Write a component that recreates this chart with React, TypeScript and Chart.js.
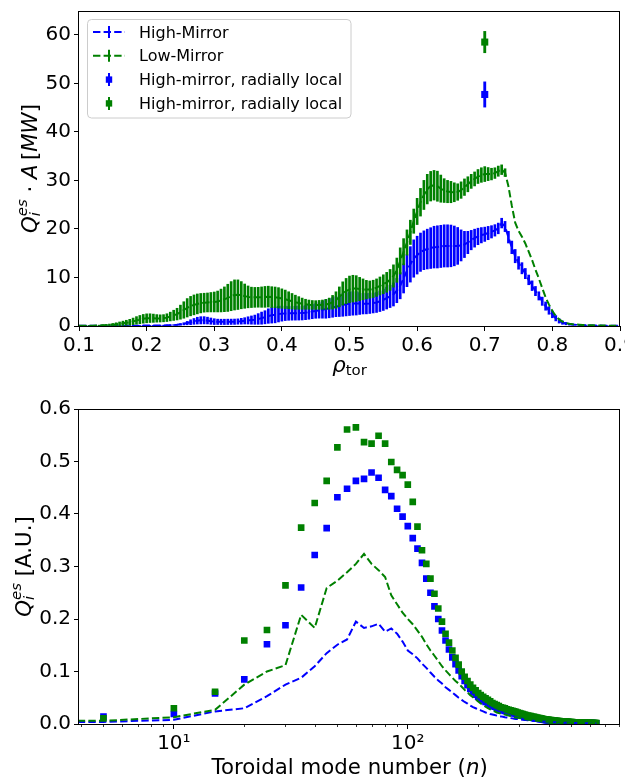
import React, { useEffect, useRef } from 'react';
import { Chart, registerables } from 'chart.js';
Chart.register(...registerables);

const FONT = '"DejaVu Sans", "Liberation Sans", sans-serif';
const BLUE = '#0000ff';
const GREEN = '#008000';

// ---------------- top panel data ----------------
const rhoGrid = [
  0.100, 0.105, 0.110, 0.115, 0.120, 0.125, 0.130, 0.135, 0.140, 0.145,
  0.150, 0.155, 0.160, 0.165, 0.170, 0.175, 0.180, 0.185, 0.190, 0.195,
  0.200, 0.205, 0.210, 0.215, 0.220, 0.225, 0.230, 0.235, 0.240, 0.245,
  0.250, 0.255, 0.260, 0.265, 0.270, 0.275, 0.280, 0.285, 0.290, 0.295,
  0.300, 0.305, 0.310, 0.315, 0.320, 0.325, 0.330, 0.335, 0.340, 0.345,
  0.350, 0.355, 0.360, 0.365, 0.370, 0.375, 0.380, 0.385, 0.390, 0.395,
  0.400, 0.405, 0.410, 0.415, 0.420, 0.425, 0.430, 0.435, 0.440, 0.445,
  0.450, 0.455, 0.460, 0.465, 0.470, 0.475, 0.480, 0.485, 0.490, 0.495,
  0.500, 0.505, 0.510, 0.515, 0.520, 0.525, 0.530, 0.535, 0.540, 0.545,
  0.550, 0.555, 0.560, 0.565, 0.570, 0.575, 0.580, 0.585, 0.590, 0.595,
  0.600, 0.605, 0.610, 0.615, 0.620, 0.625, 0.630, 0.635, 0.640, 0.645,
  0.650, 0.655, 0.660, 0.665, 0.670, 0.675, 0.680, 0.685, 0.690, 0.695,
  0.700, 0.705, 0.710, 0.715, 0.720, 0.725, 0.730, 0.735, 0.740, 0.745,
  0.750, 0.755, 0.760, 0.765, 0.770, 0.775, 0.780, 0.785, 0.790, 0.795,
  0.800, 0.805, 0.810, 0.815, 0.820, 0.825, 0.830, 0.835, 0.840, 0.845,
  0.850, 0.855, 0.860, 0.865, 0.870, 0.875, 0.880, 0.885, 0.890, 0.895, 0.900,
];

const highMirrorMean = [
  0.05, 0.05, 0.05, 0.05, 0.05, 0.05, 0.05, 0.05, 0.05, 0.06,
  0.06, 0.06, 0.06, 0.06, 0.06, 0.07, 0.07, 0.07, 0.07, 0.08,
  0.08, 0.08, 0.09, 0.10, 0.11, 0.12, 0.14, 0.17, 0.20, 0.26,
  0.34, 0.45, 0.60, 0.78, 0.95, 1.10, 1.17, 1.18, 1.12, 1.00,
  0.90, 0.86, 0.85, 0.85, 0.86, 0.87, 0.88, 0.92, 0.98, 1.06,
  1.15, 1.22, 1.30, 1.45, 1.62, 1.80, 2.05, 2.20, 2.30, 2.45,
  2.55, 2.60, 2.60, 2.62, 2.64, 2.66, 2.68, 2.75, 2.85, 2.97,
  3.09, 3.22, 3.36, 3.50, 3.66, 3.82, 3.98, 4.15, 4.32, 4.48,
  4.58, 4.65, 4.66, 4.63, 4.60, 4.60, 4.66, 4.75, 4.85, 5.10,
  5.40, 5.75, 6.10, 6.50, 7.30, 8.30, 9.80, 11.4, 12.7, 13.9,
  14.6, 15.2, 15.6, 15.85, 16.05, 16.25, 16.3, 16.4, 16.5, 16.5,
  16.5, 16.5, 16.5, 16.6, 16.8, 17.2, 17.7, 18.1, 18.45, 18.7,
  18.9, 19.15, 19.4, 19.7, 20.1, 21.2, 20.5, 18.3, 16.2, 14.4,
  13.0, 11.9, 10.8, 9.5, 8.3, 7.2, 6.2, 5.1, 4.1, 3.2,
  2.4, 1.6, 1.05, 0.70, 0.50, 0.38, 0.30, 0.25, 0.20, 0.16,
  0.14, 0.12, 0.10, 0.09, 0.08, 0.07, 0.06, 0.06, 0.05, 0.05, 0.05,
];

const highMirrorErr = [
  0.03, 0.03, 0.03, 0.03, 0.03, 0.03, 0.03, 0.03, 0.03, 0.03,
  0.03, 0.03, 0.03, 0.03, 0.03, 0.03, 0.03, 0.03, 0.03, 0.03,
  0.04, 0.04, 0.04, 0.05, 0.05, 0.05, 0.06, 0.07, 0.08, 0.10,
  0.15, 0.22, 0.35, 0.50, 0.60, 0.70, 0.75, 0.75, 0.70, 0.65,
  0.60, 0.55, 0.55, 0.55, 0.55, 0.55, 0.55, 0.55, 0.60, 0.65,
  0.75, 0.85, 0.95, 1.10, 1.25, 1.35, 1.50, 1.60, 1.65, 1.62,
  1.55, 1.48, 1.42, 1.42, 1.43, 1.44, 1.44, 1.45, 1.46, 1.47,
  1.50, 1.60, 1.75, 1.90, 1.97, 2.02, 2.06, 2.20, 2.32, 2.40,
  2.42, 2.42, 2.40, 2.25, 2.12, 2.10, 2.08, 2.06, 2.06, 2.12,
  2.20, 2.25, 2.30, 2.38, 2.50, 2.70, 3.00, 3.30, 3.65, 3.85,
  3.90, 3.95, 4.00, 4.10, 4.20, 4.30, 4.35, 4.35, 4.35, 4.35,
  4.30, 4.10, 3.80, 3.20, 2.70, 2.30, 2.00, 1.85, 1.70, 1.58,
  1.47, 1.37, 1.27, 1.18, 1.10, 1.00, 1.05, 1.20, 1.30, 1.37,
  1.30, 1.15, 1.05, 1.00, 1.00, 0.95, 0.85, 0.85, 0.85, 0.78,
  0.70, 0.55, 0.45, 0.35, 0.25, 0.18, 0.12, 0.10, 0.08, 0.05,
  0.05, 0.05, 0.05, 0.05, 0.05, 0.05, 0.05, 0.05, 0.05, 0.05, 0.05,
];

const lowMirrorMean = [
  0.05, 0.05, 0.05, 0.06, 0.07, 0.08, 0.10, 0.13, 0.17, 0.22,
  0.28, 0.36, 0.45, 0.55, 0.66, 0.78, 0.95, 1.15, 1.32, 1.48,
  1.58, 1.62, 1.60, 1.57, 1.56, 1.60, 1.72, 1.95, 2.20, 2.45,
  2.85, 3.30, 3.75, 4.10, 4.35, 4.55, 4.70, 4.80, 4.85, 4.90,
  4.95, 5.05, 5.25, 5.50, 5.80, 6.15, 6.40, 6.45, 6.35, 6.15,
  6.00, 5.90, 5.90, 5.92, 5.95, 6.00, 6.05, 5.95, 5.90, 5.80,
  5.65, 5.50, 5.30, 5.10, 4.90, 4.75, 4.60, 4.48, 4.40, 4.35,
  4.32, 4.35, 4.40, 4.46, 4.60, 4.90, 5.35, 6.00, 6.70, 7.20,
  7.55, 7.70, 7.72, 7.62, 7.55, 7.50, 7.50, 7.65, 7.90, 8.25,
  8.60, 9.00, 9.50, 10.3, 11.5, 13.4, 15.3, 17.2, 19.3, 21.6,
  23.6, 25.5, 27.0, 28.2, 28.8, 29.0, 28.8, 28.3, 27.9, 27.7,
  27.6, 27.55, 27.6, 28.0, 28.6, 29.2, 29.8, 30.3, 30.8, 31.1,
  31.3, 31.3, 31.3, 31.5, 31.9, 32.2, 31.6, 28.8, 24.8, 21.3,
  19.6, 18.4, 17.0, 15.3, 13.6, 11.6, 9.8, 7.8, 5.9, 4.4,
  3.1, 2.1, 1.35, 0.90, 0.60, 0.45, 0.35, 0.30, 0.25, 0.20,
  0.17, 0.15, 0.13, 0.11, 0.10, 0.09, 0.08, 0.07, 0.06, 0.06, 0.05,
];

const lowMirrorErr = [
  0.00, 0.02, 0.03, 0.04, 0.05, 0.06, 0.08, 0.10, 0.13, 0.18,
  0.24, 0.30, 0.38, 0.45, 0.52, 0.60, 0.68, 0.78, 0.85, 0.90,
  0.92, 0.90, 0.85, 0.78, 0.74, 0.74, 0.80, 0.90, 1.05, 1.20,
  1.45, 1.70, 1.90, 2.00, 2.05, 2.05, 2.00, 1.95, 1.95, 2.00,
  2.05, 2.15, 2.35, 2.55, 2.80, 3.00, 3.10, 3.05, 2.80, 2.50,
  2.25, 2.10, 2.05, 2.05, 2.10, 2.15, 2.15, 2.15, 2.13, 2.10,
  2.00, 1.90, 1.75, 1.60, 1.45, 1.30, 1.15, 1.03, 0.95, 0.90,
  0.90, 0.92, 0.95, 1.03, 1.15, 1.40, 1.70, 2.05, 2.40, 2.60,
  2.74, 2.75, 2.65, 2.40, 2.15, 1.90, 1.78, 1.78, 1.80, 1.85,
  1.95, 2.05, 2.15, 2.30, 2.50, 2.70, 2.70, 2.60, 2.50, 2.50,
  2.70, 2.85, 3.00, 3.05, 3.05, 3.05, 3.10, 2.80, 2.45, 2.30,
  2.20, 1.95, 1.70, 1.70, 1.70, 1.55, 1.45, 1.44, 1.44, 1.50,
  1.54, 1.35, 1.20, 1.10, 1.05, 1.00, 0.80, 0, 0, 0,
  0, 0, 0, 0, 0, 0, 0, 0, 0, 0,
  0, 0, 0, 0, 0, 0, 0, 0, 0, 0,
  0, 0, 0, 0, 0, 0, 0, 0, 0, 0, 0,
];

const localRho = [0.70];
const localHighMean = [47.7];
const localHighErr = [2.6];
const localLowMean = [58.5];
const localLowErr = [2.2];

const legendLabels = [
  'High-Mirror',
  'Low-Mirror',
  'High-mirror, radially local',
  'High-mirror, radially local',
];

const topXTicks = [0.1, 0.2, 0.3, 0.4, 0.5, 0.6, 0.7, 0.8, 0.9];
const topYTicks = [0, 10, 20, 30, 40, 50, 60];

// ---------------- bottom panel data ----------------
const modeNumber = [
  5, 10, 15, 20, 25, 30, 35, 40, 45, 50,
  55, 60, 65, 70, 75, 80, 85, 90, 95, 100,
  105, 110, 115, 120, 125, 130, 135, 140, 145, 150,
  155, 160, 165, 170, 175, 180, 185, 190, 195, 200,
  205, 210, 215, 220, 225, 230, 235, 240, 245, 250,
  255, 260, 265, 270, 275, 280, 285, 290, 295, 300,
  305, 310, 315, 320, 325, 330, 335, 340, 345, 350,
  355, 360, 365, 370, 375, 380, 385, 390, 395, 400,
  405, 410, 415, 420, 425, 430, 435, 440, 445, 450,
  455, 460, 465, 470, 475, 480, 485, 490, 495, 500,
  505, 510, 515, 520, 525, 530, 535, 540, 545, 550,
  555, 560, 565, 570, 575, 580, 585, 590, 595, 600,
  605, 610, 615, 620, 625, 630, 635, 640,
];

const highLocalSpectrum = [
  0.014, 0.019, 0.058, 0.085, 0.152, 0.188, 0.260, 0.322, 0.373, 0.432,
  0.448, 0.463, 0.467, 0.479, 0.469, 0.446, 0.434, 0.410, 0.395, 0.377,
  0.354, 0.334, 0.307, 0.277, 0.250, 0.224, 0.200, 0.178, 0.159, 0.142,
  0.127, 0.114, 0.102, 0.091, 0.082, 0.074, 0.067, 0.061, 0.056, 0.052,
  0.048, 0.045, 0.042, 0.039, 0.037, 0.035, 0.033, 0.031, 0.029, 0.028,
  0.026, 0.025, 0.024, 0.023, 0.022, 0.021, 0.020, 0.019, 0.018, 0.0175,
  0.0167, 0.016, 0.0152, 0.0145, 0.0138, 0.0132, 0.0126, 0.012, 0.0115, 0.011,
  0.0105, 0.010, 0.0095, 0.009, 0.0086, 0.0082, 0.0078, 0.0075, 0.0071, 0.0068,
  0.0065, 0.0062, 0.006, 0.0057, 0.0055, 0.0053, 0.0051, 0.0049, 0.0047, 0.0045,
  0.0044, 0.0042, 0.004, 0.0039, 0.0037, 0.0036, 0.0035, 0.0034, 0.0033, 0.0032,
  0.003, 0.0029, 0.0028, 0.0028, 0.0027, 0.0026, 0.0025, 0.0024, 0.0024, 0.0023,
  0.0022, 0.0022, 0.0021, 0.002, 0.002, 0.0019, 0.0019, 0.0018, 0.0018, 0.0017,
  0.0017, 0.0016, 0.0016, 0.0016, 0.0015, 0.0015, 0.0014, 0.0014,
];

const lowLocalSpectrum = [
  0.011, 0.030, 0.0615, 0.159, 0.179, 0.264, 0.374, 0.421, 0.463, 0.527,
  0.561, 0.565, 0.537, 0.534, 0.549, 0.534, 0.499, 0.484, 0.474, 0.456,
  0.423, 0.376, 0.331, 0.305, 0.277, 0.248, 0.220, 0.195, 0.172, 0.155,
  0.140, 0.126, 0.113, 0.100, 0.090, 0.082, 0.075, 0.069, 0.064, 0.059,
  0.055, 0.052, 0.049, 0.046, 0.043, 0.040, 0.038, 0.036, 0.034, 0.032,
  0.031, 0.030, 0.028, 0.027, 0.026, 0.025, 0.024, 0.023, 0.022, 0.021,
  0.020, 0.019, 0.018, 0.017, 0.016, 0.0155, 0.015, 0.0143, 0.0136, 0.013,
  0.0124, 0.0118, 0.0112, 0.0106, 0.0101, 0.0096, 0.0091, 0.0087, 0.0083, 0.0079,
  0.0076, 0.0073, 0.007, 0.0067, 0.0064, 0.0061, 0.0059, 0.0057, 0.0055, 0.0053,
  0.0051, 0.0049, 0.0047, 0.0045, 0.0044, 0.0042, 0.0041, 0.0039, 0.0038, 0.0037,
  0.0035, 0.0034, 0.0033, 0.0032, 0.0031, 0.003, 0.0029, 0.0028, 0.0027, 0.0027,
  0.0026, 0.0025, 0.0024, 0.0024, 0.0023, 0.0022, 0.0022, 0.0021, 0.0021, 0.002,
  0.002, 0.0019, 0.0019, 0.0018, 0.0018, 0.0017, 0.0017, 0.0016,
];

const highGlobalSpectrum = [
  0.004, 0.008, 0.024, 0.030, 0.053, 0.075, 0.088, 0.110, 0.135, 0.151,
  0.161, 0.195, 0.183, 0.186, 0.191, 0.176, 0.182, 0.172, 0.157, 0.140,
  0.133, 0.125, 0.115, 0.107, 0.098, 0.090, 0.083, 0.077, 0.070, 0.065,
  0.060, 0.055, 0.050, 0.046, 0.042, 0.039, 0.035, 0.032, 0.030, 0.028,
  0.026, 0.024, 0.022, 0.021, 0.019, 0.018, 0.017, 0.016, 0.015, 0.0145,
  0.0138, 0.013, 0.0124, 0.0118, 0.0112, 0.0107, 0.0102, 0.0097, 0.0093, 0.0089,
  0.0085, 0.0081, 0.0078, 0.0074, 0.0071, 0.0068, 0.0065, 0.0062, 0.006, 0.0057,
  0.0055, 0.0053, 0.0051, 0.0049, 0.0047, 0.0045, 0.0043, 0.0042, 0.004, 0.0039,
  0.0037, 0.0036, 0.0035, 0.0034, 0.0033, 0.0032, 0.0031, 0.003, 0.0029, 0.0028,
  0.0027, 0.0026, 0.0025, 0.0025, 0.0024, 0.0023, 0.0023, 0.0022, 0.0021, 0.0021,
  0.002, 0.002, 0.0019, 0.0019, 0.0018, 0.0018, 0.0017, 0.0017, 0.0016, 0.0016,
  0.0016, 0.0015, 0.0015, 0.0015, 0.0014, 0.0014, 0.0014, 0.0013, 0.0013, 0.0013,
  0.0012, 0.0012, 0.0012, 0.0012, 0.0011, 0.0011, 0.0011, 0.0011,
];

const lowGlobalSpectrum = [
  0.006, 0.013, 0.027, 0.075, 0.100, 0.112, 0.208, 0.183, 0.259, 0.273,
  0.289, 0.305, 0.324, 0.305, 0.293, 0.280, 0.245, 0.228, 0.212, 0.200,
  0.190, 0.178, 0.166, 0.152, 0.140, 0.130, 0.120, 0.110, 0.102, 0.095,
  0.088, 0.082, 0.077, 0.071, 0.065, 0.060, 0.055, 0.051, 0.047, 0.043,
  0.039, 0.036, 0.033, 0.030, 0.028, 0.026, 0.024, 0.022, 0.021, 0.020,
  0.019, 0.018, 0.017, 0.016, 0.015, 0.014, 0.013, 0.0125, 0.012, 0.0113,
  0.0107, 0.0101, 0.0096, 0.0091, 0.0086, 0.0082, 0.0078, 0.0074, 0.007, 0.0067,
  0.0064, 0.0061, 0.0058, 0.0056, 0.0053, 0.0051, 0.0049, 0.0047, 0.0045, 0.0043,
  0.0041, 0.004, 0.0038, 0.0037, 0.0035, 0.0034, 0.0033, 0.0032, 0.0031, 0.003,
  0.0029, 0.0028, 0.0027, 0.0026, 0.0025, 0.0025, 0.0024, 0.0023, 0.0023, 0.0022,
  0.0021, 0.0021, 0.002, 0.002, 0.0019, 0.0019, 0.0018, 0.0018, 0.0017, 0.0017,
  0.0017, 0.0016, 0.0016, 0.0015, 0.0015, 0.0015, 0.0014, 0.0014, 0.0014, 0.0013,
  0.0013, 0.0013, 0.0013, 0.0012, 0.0012, 0.0012, 0.0012, 0.0011,
];

// the dashed curves run in from the left edge of the axes (n below the axis minimum)
const lineStartN = 1;
const highGlobalStart = 0.004;
const lowGlobalStart = 0.006;

const bottomYTicks = [0, 0.1, 0.2, 0.3, 0.4, 0.5, 0.6];
const bottomMajorTicks = [10, 100];
const bottomMinorTicks = [4, 5, 6, 7, 8, 9, 20, 30, 40, 50, 60, 70, 80, 90, 200, 300, 400, 500, 600, 700, 800];

// ---------------- helpers ----------------
const pts = (xs: number[], ys: number[]) => xs.map((x, i) => ({ x, y: ys[i] }));
const errBars = (xs: number[], m: number[], e: number[]) =>
  xs.map((x, i) => ({ x, y: [m[i] - e[i], m[i] + e[i]] })).filter((_, i) => e[i] > 0);

type Seg = { t: string; it?: boolean; s?: number; dy?: number; noAdv?: boolean };
const segFont = (s: Seg, size: number) => `${s.it ? 'italic ' : ''}${(size * (s.s ?? 1)).toFixed(2)}px ${FONT}`;

function drawRich(ctx: CanvasRenderingContext2D, segs: Seg[], size: number, x: number, y: number) {
  let total = 0;
  for (const s of segs) {
    ctx.font = segFont(s, size);
    if (!s.noAdv) total += ctx.measureText(s.t).width;
  }
  let cx = x - total / 2;
  ctx.textAlign = 'left';
  ctx.textBaseline = 'alphabetic';
  for (const s of segs) {
    ctx.font = segFont(s, size);
    ctx.fillText(s.t, cx, y + (s.dy ?? 0) * size);
    if (!s.noAdv) cx += ctx.measureText(s.t).width;
  }
}

const LABEL = 21.3;
const TICK = 20;

const topYTitle: Seg[] = [
  { t: 'Q', it: true },
  { t: 'i', it: true, s: 0.7, dy: 0.15, noAdv: true },
  { t: 'es', it: true, s: 0.7, dy: -0.48 },
  { t: ' \u00b7 ' },
  { t: 'A', it: true },
  { t: '\u2009[' },
  { t: 'MW', it: true },
  { t: ']' },
];
const topXTitle: Seg[] = [
  { t: '\u03c1', it: true },
  { t: 'tor', s: 0.7, dy: 0.17 },
];
const bottomYTitle: Seg[] = [
  { t: 'Q', it: true },
  { t: 'i', it: true, s: 0.7, dy: 0.15, noAdv: true },
  { t: 'es', it: true, s: 0.7, dy: -0.48 },
  { t: ' [A.U.]' },
];
const bottomXTitle: Seg[] = [
  { t: 'Toroidal mode number (' },
  { t: 'n', it: true },
  { t: ')' },
];

function drawFrame(chart: any) {
  const ctx = chart.ctx as CanvasRenderingContext2D;
  const a = chart.chartArea;
  ctx.save();
  ctx.strokeStyle = '#000';
  ctx.lineWidth = 1;
  const l = Math.round(a.left) - 0.5;
  const t = Math.round(a.top) + 0.5;
  const r = Math.round(a.right) - 0.5;
  const b = Math.round(a.bottom) + 0.5;
  ctx.strokeRect(l, t, r - l, b - t);
  ctx.restore();
}

function drawLegend(ctx: CanvasRenderingContext2D) {
  const x0 = 87.5, y0 = 19.5, w = 263.5, h = 98.5, rad = 4;
  ctx.save();
  ctx.beginPath();
  ctx.moveTo(x0 + rad, y0);
  ctx.lineTo(x0 + w - rad, y0);
  ctx.arcTo(x0 + w, y0, x0 + w, y0 + rad, rad);
  ctx.lineTo(x0 + w, y0 + h - rad);
  ctx.arcTo(x0 + w, y0 + h, x0 + w - rad, y0 + h, rad);
  ctx.lineTo(x0 + rad, y0 + h);
  ctx.arcTo(x0, y0 + h, x0, y0 + h - rad, rad);
  ctx.lineTo(x0, y0 + rad);
  ctx.arcTo(x0, y0, x0 + rad, y0, rad);
  ctx.closePath();
  ctx.fillStyle = 'rgba(255,255,255,0.8)';
  ctx.fill();
  ctx.strokeStyle = '#cccccc';
  ctx.lineWidth = 1;
  ctx.stroke();

  const colors = [BLUE, GREEN, BLUE, GREEN];
  const hx = 109;
  for (let i = 0; i < legendLabels.length; i++) {
    const cy = 32 + i * 23.8;
    const c = colors[i];
    ctx.strokeStyle = c;
    ctx.fillStyle = c;
    if (i < 2) {
      ctx.lineWidth = 2;
      ctx.setLineDash([7.4, 3.2]);
      ctx.beginPath();
      ctx.moveTo(93, cy);
      ctx.lineTo(125, cy);
      ctx.stroke();
      ctx.setLineDash([]);
      ctx.beginPath();
      ctx.moveTo(hx, cy - 6);
      ctx.lineTo(hx, cy + 6);
      ctx.stroke();
    } else {
      ctx.lineWidth = 2;
      ctx.setLineDash([]);
      ctx.beginPath();
      ctx.moveTo(hx, cy - 6.5);
      ctx.lineTo(hx, cy + 6.5);
      ctx.stroke();
      ctx.fillRect(hx - 3.2, cy - 3.2, 6.4, 6.4);
    }
    ctx.fillStyle = '#000';
    ctx.font = `16px ${FONT}`;
    ctx.textAlign = 'left';
    ctx.textBaseline = 'alphabetic';
    ctx.fillText(legendLabels[i], 139, cy + 5.6);
  }
  ctx.restore();
}

const fixY = (w: number) => (scale: any) => {
  scale.width = w;
  scale.paddingTop = 0; scale.paddingBottom = 0; scale.paddingLeft = 0; scale.paddingRight = 0;
};
const fixX = (h: number) => (scale: any) => {
  scale.height = h;
  scale.paddingTop = 0; scale.paddingBottom = 0; scale.paddingLeft = 0; scale.paddingRight = 0;
};

const tickFont = { family: FONT, size: TICK };
const gridCfg = { display: true, drawOnChartArea: false, drawTicks: true, tickLength: 5, tickWidth: 1, tickColor: '#000' };

const TOP_H = 385;
const BOT_H = 392;

function topConfig(): any {
  const decor = {
    id: 'topDecor',
    afterDatasetsDraw(chart: any) { drawFrame(chart); },
    afterDraw(chart: any) {
      const ctx = chart.ctx as CanvasRenderingContext2D;
      const a = chart.chartArea;
      ctx.save();
      ctx.fillStyle = '#000';
      ctx.translate(37, (a.top + a.bottom) / 2);
      ctx.rotate(-Math.PI / 2);
      drawRich(ctx, topYTitle, LABEL, 0, 0);
      ctx.restore();
      ctx.save();
      ctx.fillStyle = '#000';
      drawRich(ctx, topXTitle, LABEL, (a.left + a.right) / 2, 371.5);
      ctx.restore();
      drawLegend(ctx);
    },
  };
  return {
    type: 'scatter',
    data: {
      datasets: [
        { type: 'bar', data: errBars(rhoGrid, highMirrorMean, highMirrorErr), backgroundColor: BLUE, borderWidth: 0, barThickness: 2, grouped: false, order: 10 },
        { type: 'line', label: legendLabels[0], data: pts(rhoGrid, highMirrorMean), borderColor: BLUE, borderWidth: 2, borderDash: [7.4, 3.2], pointRadius: 0, fill: false, tension: 0, order: 9 },
        { type: 'bar', data: errBars(rhoGrid, lowMirrorMean, lowMirrorErr), backgroundColor: GREEN, borderWidth: 0, barThickness: 2, grouped: false, order: 8 },
        { type: 'line', label: legendLabels[1], data: pts(rhoGrid, lowMirrorMean), borderColor: GREEN, borderWidth: 2, borderDash: [7.4, 3.2], pointRadius: 0, fill: false, tension: 0, order: 7 },
        { type: 'bar', data: errBars(localRho, localHighMean, localHighErr), backgroundColor: BLUE, borderWidth: 0, barThickness: 2.2, grouped: false, order: 6 },
        { type: 'scatter', label: legendLabels[2], data: pts(localRho, localHighMean), pointStyle: 'rect', pointRadius: 5, pointBackgroundColor: BLUE, pointBorderWidth: 0, order: 5 },
        { type: 'bar', data: errBars(localRho, localLowMean, localLowErr), backgroundColor: GREEN, borderWidth: 0, barThickness: 2.2, grouped: false, order: 4 },
        { type: 'scatter', label: legendLabels[3], data: pts(localRho, localLowMean), pointStyle: 'rect', pointRadius: 5, pointBackgroundColor: GREEN, pointBorderWidth: 0, order: 3 },
      ],
    },
    options: {
      responsive: false,
      maintainAspectRatio: false,
      devicePixelRatio: 1,
      animation: false,
      events: [],
      layout: { padding: { left: 0, right: 3, top: 11, bottom: 0 } },
      plugins: { legend: { display: false }, tooltip: { enabled: false }, title: { display: false } },
      scales: {
        x: {
          type: 'linear', min: 0.1, max: 0.9, offset: false,
          grid: { ...gridCfg, offset: false },
          border: { display: false },
          afterBuildTicks: (s: any) => { s.ticks = topXTicks.map((v) => ({ value: v })); },
          afterFit: fixX(TOP_H - 326),
          ticks: { font: tickFont, color: '#000', padding: 3, maxRotation: 0, autoSkip: false, callback: (v: any) => Number(v).toFixed(1) },
        },
        y: {
          type: 'linear', min: 0, max: 64.9,
          grid: gridCfg,
          border: { display: false },
          afterBuildTicks: (s: any) => { s.ticks = topYTicks.map((v) => ({ value: v })); },
          afterFit: fixY(79),
          ticks: { font: tickFont, color: '#000', padding: 3, autoSkip: false, callback: (v: any) => String(v) },
        },
      },
    },
    plugins: [decor],
  };
}

function bottomConfig(): any {
  const decor = {
    id: 'bottomDecor',
    afterDatasetsDraw(chart: any) { drawFrame(chart); },
    afterDraw(chart: any) {
      const ctx = chart.ctx as CanvasRenderingContext2D;
      const a = chart.chartArea;
      const xs = chart.scales.x;
      ctx.save();
      ctx.strokeStyle = '#000';
      ctx.lineWidth = 0.8;
      for (const v of bottomMinorTicks) {
        if (v < xs.min || v > xs.max) continue;
        const px = Math.round(xs.getPixelForValue(v)) + 0.5;
        ctx.beginPath();
        ctx.moveTo(px, a.bottom);
        ctx.lineTo(px, a.bottom + 3);
        ctx.stroke();
      }
      ctx.restore();
      ctx.save();
      ctx.fillStyle = '#000';
      ctx.translate(31, (a.top + a.bottom) / 2);
      ctx.rotate(-Math.PI / 2);
      drawRich(ctx, bottomYTitle, LABEL, 0, 0);
      ctx.restore();
      ctx.save();
      ctx.fillStyle = '#000';
      drawRich(ctx, bottomXTitle, LABEL, (a.left + a.right) / 2, 389);
      ctx.restore();
    },
  };
  return {
    type: 'scatter',
    data: {
      datasets: [
        { type: 'scatter', data: pts(modeNumber, highLocalSpectrum), pointStyle: 'rect', pointRadius: 4.7, pointBackgroundColor: BLUE, pointBorderWidth: 0, order: 4 },
        { type: 'scatter', data: pts(modeNumber, lowLocalSpectrum), pointStyle: 'rect', pointRadius: 4.7, pointBackgroundColor: GREEN, pointBorderWidth: 0, order: 3 },
        { type: 'line', data: [{ x: lineStartN, y: highGlobalStart }, ...pts(modeNumber, highGlobalSpectrum)], borderColor: BLUE, borderWidth: 2, borderDash: [7.4, 3.2], pointRadius: 0, fill: false, tension: 0, order: 2 },
        { type: 'line', data: [{ x: lineStartN, y: lowGlobalStart }, ...pts(modeNumber, lowGlobalSpectrum)], borderColor: GREEN, borderWidth: 2, borderDash: [7.4, 3.2], pointRadius: 0, fill: false, tension: 0, order: 1 },
      ],
    },
    options: {
      responsive: false,
      maintainAspectRatio: false,
      devicePixelRatio: 1,
      animation: false,
      events: [],
      layout: { padding: { left: 0, right: 3, top: 24, bottom: 0 } },
      plugins: { legend: { display: false }, tooltip: { enabled: false }, title: { display: false } },
      scales: {
        x: {
          type: 'logarithmic', min: 3.93, max: 810, offset: false,
          grid: { ...gridCfg, offset: false, tickColor: (c: any) => (c.tick && bottomMajorTicks.includes(c.tick.value) ? '#000' : 'rgba(0,0,0,0)') },
          border: { display: false },
          afterBuildTicks: (s: any) => { s.ticks = bottomMajorTicks.map((v) => ({ value: v, major: true })); },
          afterFit: fixX(BOT_H - 339),
          ticks: {
            font: tickFont, color: '#000', padding: 3, maxRotation: 0, autoSkip: false,
            callback: (v: any) => (Number(v) === 10 ? '10\u00b9' : Number(v) === 100 ? '10\u00b2' : ''),
          },
        },
        y: {
          type: 'linear', min: 0, max: 0.6,
          grid: gridCfg,
          border: { display: false },
          afterBuildTicks: (s: any) => { s.ticks = bottomYTicks.map((v) => ({ value: v })); },
          afterFit: fixY(79),
          ticks: { font: tickFont, color: '#000', padding: 3, autoSkip: false, callback: (v: any) => Number(v).toFixed(1) },
        },
      },
    },
    plugins: [decor],
  };
}

export default function App() {
  const topRef = useRef<HTMLCanvasElement>(null);
  const botRef = useRef<HTMLCanvasElement>(null);
  useEffect(() => {
    const c1 = new Chart(topRef.current as HTMLCanvasElement, topConfig());
    const c2 = new Chart(botRef.current as HTMLCanvasElement, bottomConfig());
    return () => { c1.destroy(); c2.destroy(); };
  }, []);
  return (
    <div style={{ position: 'absolute', left: 0, top: 0, width: 625, height: 777, background: '#fff', overflow: 'hidden' }}>
      <canvas ref={topRef} width={625} height={TOP_H} style={{ position: 'absolute', left: 0, top: 0, width: 625, height: TOP_H }} />
      <canvas ref={botRef} width={625} height={BOT_H} style={{ position: 'absolute', left: 0, top: TOP_H, width: 625, height: BOT_H }} />
    </div>
  );
}
